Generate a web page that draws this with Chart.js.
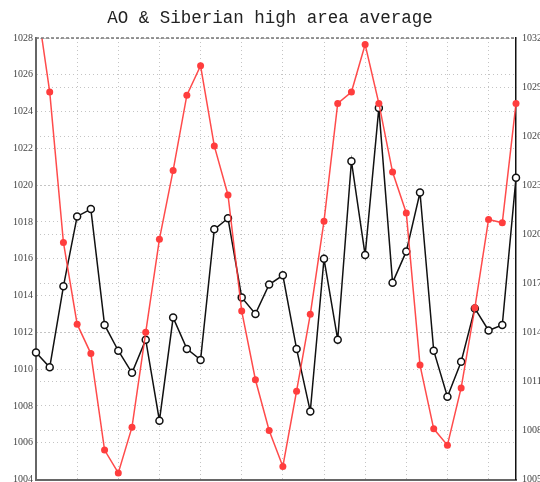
<!DOCTYPE html>
<html lang="en">
<head>
  <meta charset="UTF-8" />
  <title>AO & Siberian high area average</title>
  <script src="https://cdn.jsdelivr.net/npm/chart.js"></script>
  <style>
    body {
      margin: 0;
      background: #fff;
      overflow: hidden;
    }
  </style>
</head>
<body>
  <!-- a little taller than the window: the x axis sits at the very bottom edge -->
  <canvas id="chart" width="540" height="485"></canvas>

  <script>
    // x positions (36 steps, labels not shown in the picture)
    const steps = Array.from({ length: 36 }, (_, i) => i + 1);

    // black open circles, left axis
    const seriesLeft = [
      1010.9, 1010.1, 1014.5, 1018.3, 1018.7, 1012.4, 1011.0, 1009.8, 1011.6, 1007.2,
      1012.8, 1011.1, 1010.5, 1017.6, 1018.2, 1013.9, 1013.0, 1014.6, 1015.1, 1011.1,
      1007.7, 1016.0, 1011.6, 1021.3, 1016.2, 1024.2, 1014.7, 1016.4, 1019.6, 1011.0,
      1008.5, 1010.4, 1013.3, 1012.1, 1012.4, 1020.4
    ];

    // red filled circles, right axis
    const seriesRight = [
      1034.5, 1028.7, 1019.5, 1014.5, 1012.7, 1006.8, 1005.4, 1008.2, 1014.0, 1019.7,
      1023.9, 1028.5, 1030.3, 1025.4, 1022.4, 1015.3, 1011.1, 1008.0, 1005.8, 1010.4,
      1015.1, 1020.8, 1028.0, 1028.7, 1031.6, 1028.0, 1023.8, 1021.3, 1012.0, 1008.1,
      1007.1, 1010.6, 1015.5, 1020.9, 1020.7, 1028.0
    ];

    const leftTicks = { min: 1004, max: 1028, step: 2 };
    const rightTicks = { min: 1005, max: 1032, step: 3 };

    const dotted = '#c4c4c4';
    const tickFont = { family: 'Liberation Serif', size: 10 };
    const plain = v => String(v);

    // keep the plot area fixed: no extra room for half tick labels
    const fixWidth = w => scale => {
      scale.width = w;
      scale.paddingTop = 0;
      scale.paddingBottom = 0;
    };

    // dashed frame line along the top of the plot
    const topFrame = {
      id: 'topFrame',
      afterDraw(chart) {
        const { ctx, chartArea } = chart;
        ctx.save();
        ctx.strokeStyle = '#777';
        ctx.lineWidth = 1.5;
        ctx.setLineDash([3, 2]);
        ctx.beginPath();
        ctx.moveTo(chartArea.left, chartArea.top);
        ctx.lineTo(chartArea.right, chartArea.top);
        ctx.stroke();
        ctx.restore();
      }
    };

    new Chart(document.getElementById('chart'), {
      type: 'line',
      data: {
        labels: steps,
        datasets: [{
          label: 'Siberian high',
          data: seriesRight,
          yAxisID: 'y1',
          borderColor: 'rgba(255, 55, 55, 0.9)',
          borderWidth: 1.5,
          pointBackgroundColor: '#ff3d3d',
          pointBorderColor: '#ff3d3d',
          pointRadius: 3.5,
          pointBorderWidth: 0,
          tension: 0,
          clip: { left: 6, right: 6, top: 0, bottom: 6 }
        }, {
          label: 'AO',
          data: seriesLeft,
          yAxisID: 'y',
          borderColor: '#111',
          borderWidth: 1.5,
          pointBackgroundColor: '#fff',
          pointBorderColor: '#111',
          pointRadius: 3.5,
          pointBorderWidth: 1.5,
          tension: 0,
          clip: { left: 6, right: 6, top: 0, bottom: 6 }
        }]
      },
      options: {
        responsive: false,
        animation: false,
        layout: { padding: 0 },
        plugins: {
          legend: { display: false },
          tooltip: { enabled: false },
          title: {
            display: true,
            text: 'AO & Siberian high area average',
            color: '#222',
            font: { family: 'Liberation Mono', size: 17.5, weight: 'normal' },
            padding: { top: 8, bottom: 9 }
          }
        },
        scales: {
          x: {
            offset: false,
            ticks: { display: false, autoSkip: false },
            grid: {
              color: ctx => (ctx.index % 3 === 0 ? dotted : 'rgba(0,0,0,0)'),
              tickLength: 0
            },
            border: { color: '#666', width: 2, dash: [1, 3] },
            afterFit: scale => {
              scale.height = 0;
              scale.paddingLeft = 0;
              scale.paddingRight = 0;
            }
          },
          y: {
            position: 'left',
            min: leftTicks.min,
            max: leftTicks.max,
            ticks: {
              stepSize: leftTicks.step,
              color: '#444',
              font: tickFont,
              padding: 3,
              callback: plain
            },
            grid: { color: dotted, tickLength: 0 },
            border: { color: '#666', width: 2, dash: [1, 3] },
            afterFit: fixWidth(36)
          },
          y1: {
            position: 'right',
            min: rightTicks.min,
            max: rightTicks.max,
            ticks: {
              stepSize: rightTicks.step,
              color: '#444',
              font: tickFont,
              padding: 6,
              callback: plain
            },
            grid: { color: dotted, tickLength: 0 },
            border: { color: '#111', width: 1.5, dash: [1, 3] },
            afterFit: fixWidth(24)
          }
        }
      },
      plugins: [topFrame]
    });
  </script>
</body>
</html>
